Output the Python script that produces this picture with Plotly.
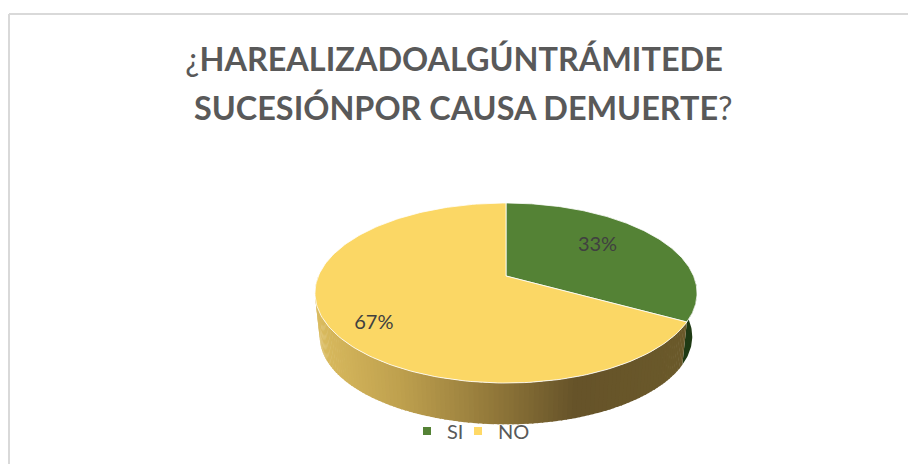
import numpy as np
import plotly.graph_objects as go

categories = ["SI", "NO"]
shares = [33, 67]
slice_colors = ["#548235", "#FBD765"]
legend_colors = ["#548235", "#FFD966"]
title_lines = [
    "¿<b>HAREALIZADOALGÚNTRÁMITEDE</b>",
    "<b>SUCESIÓNPOR CAUSA DEMUERTE</b>?",
]

# side wall colours, left to right along the rim
side_stops_x = [0.0, 0.22, 0.45, 0.70, 1.0]
side_stops_rgb = [(217, 186, 94), (190, 160, 78), (150, 124, 60), (102, 83, 41), (107, 90, 43)]
side_dark_green = "#1F3A14"

# perspective disc, in page pixels
CX, APEX_Y, RX, RY, TILT = 506, 276, 187.6, 86.8, 0.189
LOW_Y, LOW_SCALE = 320, 0.975

# where the data labels sit: angle and fraction of the radius
LABEL_ANGLES = np.array([55, 232])
LABEL_RADII = np.array([0.66, 0.79])

# left edge of each legend box, page pixels
LEGEND_LEFT = [407, 458]


def rim(t, apex_y=APEX_Y, scale=1.0):
    # t is degrees clockwise from 12 o'clock
    r = np.radians(t)
    w = 1 + TILT * np.cos(r)
    return CX + scale * RX * np.sin(r) / w, apex_y - scale * RY * np.cos(r) / w


def wall_color(x):
    pos = (x - 320) / (685 - 320)
    return "rgb(%d,%d,%d)" % tuple(
        np.interp(pos, side_stops_x, [c[i] for c in side_stops_rgb]) for i in range(3)
    )


fig = go.Figure()

ends = np.cumsum(shares) / sum(shares) * 360
starts = np.concatenate([[0], ends[:-1]])

# side wall of the green slice, only its right sliver is visible
t = np.linspace(90, ends[0], 40)
x1, y1 = rim(t)
x2, y2 = rim(t, LOW_Y, LOW_SCALE)
fig.add_trace(go.Scatter(
    x=np.concatenate([x1, x2[::-1]]), y=np.concatenate([y1, y2[::-1]]),
    mode="lines", fill="toself", fillcolor=side_dark_green, line=dict(width=0),
    hoverinfo="skip", showlegend=False,
))

# side wall of the yellow slice as thin strips, for the gradient
edges = np.linspace(ends[0], 270, 121)
for a, b in zip(edges[:-1], edges[1:]):
    t = np.array([a, b + 0.4])
    x1, y1 = rim(t)
    x2, y2 = rim(t, LOW_Y, LOW_SCALE)
    fig.add_trace(go.Scatter(
        x=np.concatenate([x1, x2[::-1]]), y=np.concatenate([y1, y2[::-1]]),
        mode="lines", fill="toself", fillcolor=wall_color(x1.mean()), line=dict(width=0),
        hoverinfo="skip", showlegend=False,
    ))

# top face
for name, start, end, color in zip(categories, starts, ends, slice_colors):
    t = np.linspace(start, end, 180)
    x, y = rim(t)
    fig.add_trace(go.Scatter(
        x=np.concatenate([[CX], x, [CX]]), y=np.concatenate([[APEX_Y], y, [APEX_Y]]),
        mode="lines", fill="toself", fillcolor=color,
        line=dict(color="rgba(255,255,255,0.8)", width=1),
        name=name, showlegend=False, hoverinfo="name",
    ))

# data labels
lx, ly = rim(LABEL_ANGLES, APEX_Y, LABEL_RADII)
fig.add_trace(go.Scatter(
    x=lx, y=ly, mode="text",
    text=["%d%%" % s for s in shares],
    textfont=dict(family="Lato", size=20, color="#404040"),
    hoverinfo="skip", showlegend=False,
))

# legend entries, one legend each so the spacing can be tighter than plotly's
legend_ids = ["legend", "legend2"]
for name, color, legend_id in zip(categories, legend_colors, legend_ids):
    fig.add_trace(go.Scatter(
        x=[None], y=[None], mode="markers", name=name, legend=legend_id,
        marker=dict(symbol="square", size=8, color=color),
    ))


def legend_box(left):
    return dict(
        x=(left - 8) / 908, xanchor="left", y=1 - (431 - 8) / 456, yanchor="middle",
        font=dict(family="Lato", size=20, color="#595959"),
        bgcolor="rgba(0,0,0,0)", itemwidth=30,
    )


# the page has an 8px body margin, so the figure is 8px short and the
# axes start at 8 to keep data units equal to page pixels
fig.update_layout(
    width=908, height=456,
    margin=dict(l=0, r=0, t=0, b=0),
    paper_bgcolor="white", plot_bgcolor="white",
    xaxis=dict(range=[8, 916], visible=False, fixedrange=True),
    yaxis=dict(range=[464, 8], visible=False, fixedrange=True),
    title=dict(
        text=title_lines[0],
        x=(454 - 8) / 908, xanchor="center", y=1 - (60 - 8) / 456, yanchor="middle",
        font=dict(family="Lato", size=32.4, color="#595959"),
    ),
    annotations=[
        dict(text=title_lines[1], x=463, y=107, xref="x", yref="y", showarrow=False,
             xanchor="center", yanchor="middle",
             font=dict(family="Lato", size=32.4, color="#595959")),
    ],
    legend=legend_box(LEGEND_LEFT[0]),
    legend2=legend_box(LEGEND_LEFT[1]),
    shapes=[
        dict(type="line", xref="x", yref="y", x0=9, x1=9, y0=14, y1=464,
             line=dict(color="#D9D9D9", width=2)),
        dict(type="line", xref="x", yref="y", x0=9, x1=916, y0=14, y1=14,
             line=dict(color="#D9D9D9", width=2)),
    ],
)

fig.write_html("out.html")
